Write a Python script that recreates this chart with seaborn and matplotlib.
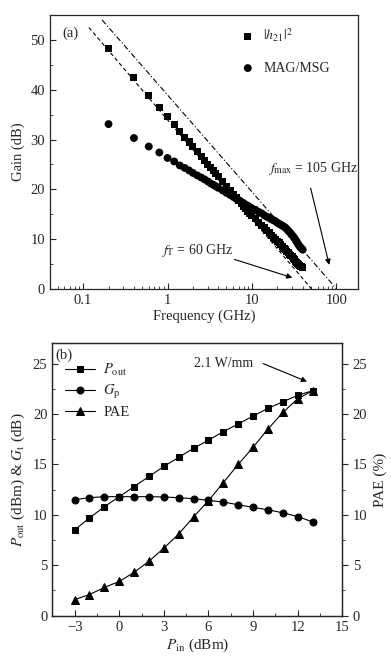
import numpy as np
import pandas as pd
import matplotlib
matplotlib.use("Agg")
import matplotlib.pyplot as plt
from matplotlib.ticker import MultipleLocator, LogLocator, NullFormatter
import seaborn as sns

# ---- panel (a): small-signal gain vs frequency ----
freq = [0.2, 0.4, 0.6, 0.8, 1.0, 1.2, 1.4, 1.6, 1.8, 2.0,
        2.25, 2.5, 2.75, 3.0, 3.25, 3.5, 3.75, 4.0, 4.5, 5.0,
        5.5, 6.0, 6.5, 7.0, 7.5, 8.0, 8.5, 9.0, 9.5, 10,
        11, 12, 13, 14, 15, 16, 17, 18, 19, 20,
        21, 22, 23, 24, 25, 26, 27, 28, 29, 30,
        31, 32, 33, 34, 35, 36, 37, 38, 39, 40]
h21 = [48.2, 42.5, 38.9, 36.5, 34.6, 33.0, 31.6, 30.5, 29.5, 28.6,
       27.6, 26.6, 25.8, 25.0, 24.3, 23.7, 23.1, 22.5, 21.5, 20.6,
       19.8, 19.0, 18.3, 17.7, 17.1, 16.6, 16.1, 15.6, 15.2, 14.8,
       14.1, 13.4, 12.8, 12.3, 11.8, 11.3, 10.8, 10.4, 10.0, 9.6,
       9.3, 8.9, 8.6, 8.2, 7.9, 7.6, 7.3, 7.0, 6.7, 6.5,
       6.2, 5.9, 5.6, 5.4, 5.2, 5.0, 4.8, 4.6, 4.5, 4.4]
mag = [33.1, 30.3, 28.6, 27.4, 26.3, 25.6, 24.8, 24.3, 23.8, 23.3,
       22.8, 22.4, 22.0, 21.6, 21.2, 20.9, 20.6, 20.3, 19.8, 19.3,
       18.9, 18.5, 18.1, 17.8, 17.5, 17.2, 16.9, 16.7, 16.4, 16.2,
       15.9, 15.5, 15.2, 14.8, 14.5, 14.3, 14.0, 13.8, 13.6, 13.3,
       13.1, 12.9, 12.7, 12.5, 12.3, 12.0, 11.7, 11.4, 11.1, 10.8,
       10.5, 10.2, 9.8, 9.5, 9.1, 8.8, 8.5, 8.3, 8.1, 7.9]
ft_line_f = [0.117, 51]
ft_line_g = [52.5, 0]
fmax_line_f = [0.168, 101]
fmax_line_g = [54.0, 0]

# ---- panel (b): power sweep ----
pin = [-3, -2, -1, 0, 1, 2, 3, 4, 5, 6, 7, 8, 9, 10, 11, 12, 13]
pout = [8.5, 9.7, 10.8, 11.8, 12.8, 13.8, 14.8, 15.7, 16.6, 17.4,
        18.25, 19.0, 19.8, 20.55, 21.2, 21.85, 22.3]
gp = [11.5, 11.7, 11.8, 11.8, 11.8, 11.8, 11.77, 11.7, 11.6, 11.43,
      11.27, 11.0, 10.74, 10.5, 10.2, 9.83, 9.3]
pae = [1.6, 2.1, 2.8, 3.4, 4.3, 5.4, 6.7, 8.1, 9.8, 11.4,
       13.2, 15.0, 16.7, 18.5, 20.15, 21.5, 22.3]

sns.set_style("ticks")
plt.rcParams["font.family"] = ["Liberation Serif", "DejaVu Serif"]
plt.rcParams["mathtext.fontset"] = "stix"
plt.rcParams["font.size"] = 10.5
plt.rcParams["axes.linewidth"] = 0.9

fig = plt.figure(figsize=(3.91, 6.61), dpi=100)
ax1 = fig.add_axes([0.1279, 0.5628, 0.7877, 0.4145])
ax2 = fig.add_axes([0.1338, 0.0685, 0.7417, 0.4121])

# panel (a)
df_a = pd.DataFrame({"freq": freq, "h21": h21, "mag": mag})
sns.scatterplot(data=df_a, x="freq", y="h21", marker="s", s=26, color="black",
                edgecolor="none", ax=ax1, label=r"$|h_{21}|^2$")
sns.scatterplot(data=df_a, x="freq", y="mag", marker="o", s=32, color="black",
                edgecolor="none", ax=ax1, label="MAG/MSG")
ax1.plot(ft_line_f, ft_line_g, color="black", lw=0.8, ls=(0, (3.5, 2.5)))
ax1.plot(fmax_line_f, fmax_line_g, color="black", lw=0.8, ls=(0, (5, 2, 1, 2)))
ax1.set_xscale("log")
ax1.set_xlim(0.0405, 181)
ax1.set_ylim(0, 55)
ax1.set_xticks([0.1, 1, 10, 100])
ax1.set_xticklabels(["0.1", "1", "10", "100"])
ax1.xaxis.set_minor_locator(LogLocator(base=10, subs=np.arange(2, 10)))
ax1.xaxis.set_minor_formatter(NullFormatter())
ax1.yaxis.set_major_locator(MultipleLocator(10))
ax1.yaxis.set_minor_locator(MultipleLocator(5))
ax1.tick_params(which="both", direction="in", top=False, right=False)
ax1.tick_params(which="major", length=4)
ax1.tick_params(which="minor", length=2.5)
ax1.set_xlabel("Frequency (GHz)", labelpad=2)
ax1.set_ylabel("Gain (dB)", labelpad=4)
ax1.legend(loc="upper left", bbox_to_anchor=(0.57, 0.99), frameon=False,
           handletextpad=0.1, labelspacing=1.3, borderaxespad=0.2,
           markerscale=1.0, fontsize=10)
ax1.text(0.039, 0.934, "(a)", transform=ax1.transAxes, fontsize=10.5, va="center")
ax1.text(15.5, 24.2, r"$f_{\rm max}$ = 105 GHz", fontsize=10, va="center")
ax1.annotate("", xy=(84, 4.3), xytext=(48.8, 20.8),
             arrowprops=dict(arrowstyle="-|>", color="black", lw=0.8, mutation_scale=8))
ax1.text(0.84, 7.7, r"$f_{\rm T}$ = 60 GHz", fontsize=10, va="center")
ax1.annotate("", xy=(32.4, 2.1), xytext=(5.8, 6.1),
             arrowprops=dict(arrowstyle="-|>", color="black", lw=0.8, mutation_scale=8))

# panel (b)
df_b = pd.DataFrame({"pin": pin, "pout": pout, "gp": gp, "pae": pae})
sns.lineplot(data=df_b, x="pin", y="pout", marker="s", markersize=4.4, color="black",
             markeredgecolor="black", lw=0.8, ax=ax2, label=r"$P_{\rm out}$")
sns.lineplot(data=df_b, x="pin", y="gp", marker="o", markersize=5.0, color="black",
             markeredgecolor="black", lw=0.8, ax=ax2, label=r"$G_{\rm p}$")
ax3 = ax2.twinx()
sns.lineplot(data=df_b, x="pin", y="pae", marker="^", markersize=5.6, color="black",
             markeredgecolor="black", lw=0.8, ax=ax3, label="PAE")
ax3.get_legend().remove()
ax2.set_xlim(-4.5, 15)
ax2.set_ylim(0, 27)
ax3.set_ylim(0, 27)
ax2.xaxis.set_major_locator(MultipleLocator(3))
ax2.xaxis.set_minor_locator(MultipleLocator(1.5))
ax2.yaxis.set_major_locator(MultipleLocator(5))
ax2.yaxis.set_minor_locator(MultipleLocator(2.5))
ax3.yaxis.set_major_locator(MultipleLocator(5))
ax3.yaxis.set_minor_locator(MultipleLocator(2.5))
ax2.set_xticklabels([f"{int(t)}".replace("-", "\u2212") for t in ax2.get_xticks()])
ax2.tick_params(which="both", direction="in", top=False, right=False)
ax2.tick_params(which="major", length=4)
ax2.tick_params(which="minor", length=2.5)
ax3.tick_params(which="both", direction="out")
ax3.tick_params(which="major", length=4)
ax3.tick_params(which="minor", length=2.5)
ax2.set_xlabel(r"$P_{\rm in}$ (dBm)", labelpad=2, fontsize=11)
ax2.set_ylabel(r"$P_{\rm out}$ (dBm) & $G_{\rm t}$ (dB)", labelpad=4, fontsize=11)
ax3.set_ylabel("PAE (%)", labelpad=4, fontsize=11)
h_a, l_a = ax2.get_legend_handles_labels()
h_b, l_b = ax3.get_legend_handles_labels()
ax2.legend(h_a + h_b, l_a + l_b, loc="upper left", bbox_to_anchor=(0.0, 0.98),
           frameon=False, handlelength=2.0, handletextpad=0.6, labelspacing=0.35,
           fontsize=10.5)
ax2.text(0.01, 0.957, "(b)", transform=ax2.transAxes, fontsize=10.5, va="center")
ax2.text(5.0, 25.0, "2.1 W/mm", fontsize=10, va="center")
ax2.annotate("", xy=(12.8, 23.1), xytext=(9.5, 25.1),
             arrowprops=dict(arrowstyle="-|>", color="black", lw=0.8, mutation_scale=8))

fig.savefig("out.png", dpi=100)
